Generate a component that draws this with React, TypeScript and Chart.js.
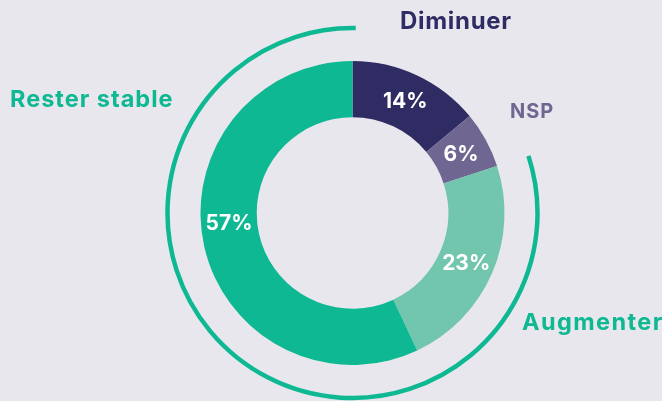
import React, { useEffect, useRef } from "react";
import { Chart, registerables } from "chart.js";

Chart.register(...registerables);

const categories = ["Diminuer", "NSP", "Augmenter", "Rester stable"];
const values = [14, 6, 23, 57];
const colors = ["#2f2c64", "#6f6692", "#72c6ad", "#0eb893"];
const labelColors = ["#2f2c64", "#6f6692", "#0eb893", "#0eb893"];
const pctLabels = ["14%", "6%", "23%", "57%"];
// where along each slice's span the percentage sits (0.5 = middle)
const pctFraction = [0.5, 0.5, 0.5, 0.54];

const FONT = "Inter, 'DejaVu Sans', sans-serif";

const overlayPlugin = {
  id: "overlay",
  afterDatasetsDraw(chart: any) {
    const ctx = chart.ctx;
    const meta = chart.getDatasetMeta(0);
    const arcs = meta.data;
    if (!arcs.length) return;
    const a0 = arcs[0];
    const cx = a0.x;
    const cy = a0.y;
    const outer = a0.outerRadius;
    const inner = a0.innerRadius;

    // outer decorative ring (gap over Diminuer + NSP)
    ctx.save();
    ctx.beginPath();
    ctx.strokeStyle = "#0eb893";
    ctx.lineWidth = 4.5;
    ctx.lineCap = "butt";
    const r = outer + 33;
    ctx.arc(cx, cy, r, (-18 * Math.PI) / 180, (271 * Math.PI) / 180, false);
    ctx.stroke();
    ctx.restore();

    // percentage labels
    ctx.save();
    ctx.fillStyle = "#ffffff";
    ctx.font = `700 21px ${FONT}`;
    ctx.textAlign = "center";
    ctx.textBaseline = "middle";
    arcs.forEach((arc: any, i: number) => {
      const ang = arc.startAngle + (arc.endAngle - arc.startAngle) * pctFraction[i];
      const rr = (outer + inner) / 2;
      ctx.fillText(pctLabels[i], cx + rr * Math.cos(ang), cy + rr * Math.sin(ang) + 1);
    });
    ctx.restore();

    // category labels
    ctx.save();
    ctx.textBaseline = "middle";
    ctx.textAlign = "left";
    const pos = [
      { x: 400, y: 22, size: 24, ls: 0.7 },
      { x: 510, y: 112, size: 20, ls: 1 },
      { x: 522, y: 323, size: 23.5, ls: 1.4 },
      { x: 10, y: 100, size: 23.5, ls: 1 },
    ];
    categories.forEach((c, i) => {
      ctx.fillStyle = labelColors[i];
      ctx.font = `700 ${pos[i].size}px ${FONT}`;
      (ctx as any).letterSpacing = `${pos[i].ls}px`;
      ctx.fillText(c, pos[i].x, pos[i].y);
    });
    (ctx as any).letterSpacing = "0px";
    ctx.restore();
  },
};

export default function App() {
  const ref = useRef<HTMLCanvasElement>(null);
  useEffect(() => {
    document.body.style.margin = "0";
    document.body.style.background = "#e9e7ee";
    const chart = new Chart(ref.current!, {
      type: "doughnut",
      data: {
        labels: categories,
        datasets: [
          {
            data: values,
            backgroundColor: colors,
            borderWidth: 0,
          },
        ],
      },
      options: {
        responsive: false,
        animation: false,
        cutout: "63%",
        layout: { padding: { left: 200.5, right: 157.5, top: 61, bottom: 36 } },
        plugins: {
          legend: { display: false },
          tooltip: { enabled: false },
        },
      },
      plugins: [overlayPlugin],
    });
    return () => chart.destroy();
  }, []);
  return (
    <div style={{ width: 662, height: 401, background: "#e9e7ee" }}>
      <canvas ref={ref} width={662} height={401} style={{ display: "block" }} />
    </div>
  );
}
